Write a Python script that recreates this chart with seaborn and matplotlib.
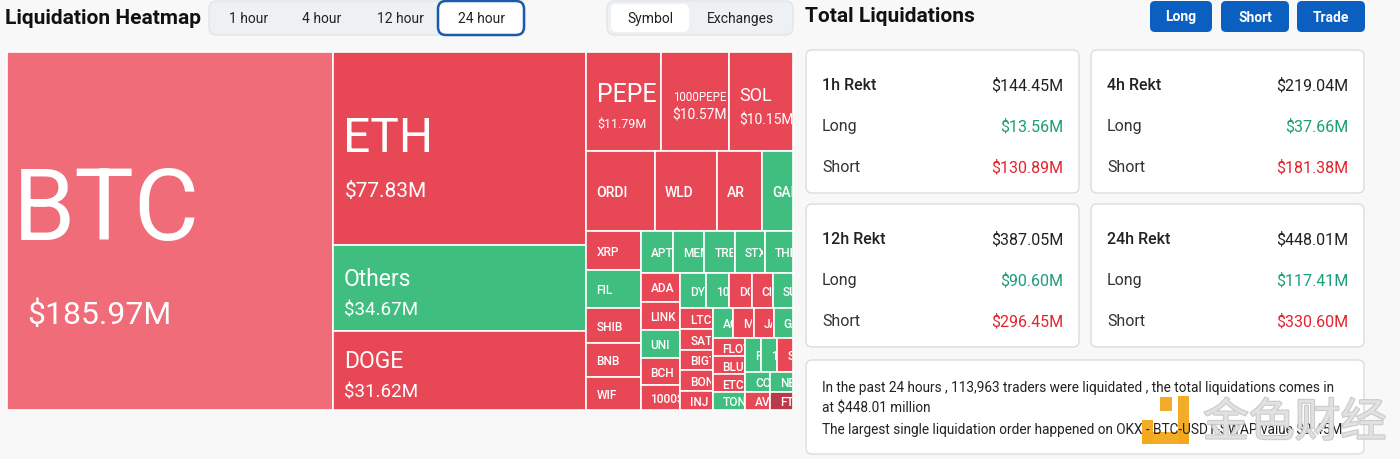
import seaborn as sns
import pandas as pd
import matplotlib.pyplot as plt
import matplotlib.patheffects as pe
from matplotlib.patches import Rectangle, FancyBboxPatch

# ---------------- data ----------------
symbols = ["BTC", "ETH", "Others", "DOGE", "PEPE", "1000PEPE", "SOL",
           "ORDI", "WLD", "AR", "GAL",
           "XRP", "FIL", "SHIB", "BNB", "WIF",
           "APT", "MEME", "TRB", "STX", "THETA",
           "ADA", "LINK", "UNI", "BCH", "1000SATS",
           "DYDX", "1000FLOKI", "DOT", "CFX", "SUI",
           "LTC", "SATS", "BIGTIME", "BONK", "INJ",
           "ACE", "MANTA", "JASMY", "GALA",
           "FLOW", "BLUR", "ETC", "TON",
           "PYTH", "1INCH", "SEI",
           "COMP", "AVAX", "NEAR", "FTM"]
values = [185.97, 77.83, 34.67, 31.62, 11.79, 10.57, 10.15,
          8.66, 7.90, 5.73, 3.95,
          3.40, 3.25, 3.00, 2.98, 2.80,
          2.20, 2.10, 2.05, 2.00, 1.90,
          1.80, 1.79, 1.78, 1.72, 1.55,
          1.45, 1.27, 1.26, 1.18, 1.12,
          1.08, 1.07, 1.06, 1.05, 1.00,
          1.00, 0.98, 0.96, 0.94,
          0.94, 0.93, 0.93, 0.92,
          0.86, 0.85, 0.84,
          0.80, 0.74, 0.72, 0.66]
sides = ["short", "short", "long", "short", "short", "short", "short",
         "short", "short", "short", "long",
         "short", "long", "short", "short", "short",
         "long", "long", "long", "long", "long",
         "short", "short", "long", "short", "short",
         "long", "long", "short", "short", "long",
         "short", "short", "short", "short", "short",
         "long", "short", "short", "long",
         "short", "short", "short", "long",
         "long", "long", "short",
         "long", "short", "long", "short"]

periods = ["1h", "4h", "12h", "24h"]
rekt_total = [144.45, 219.04, 387.05, 448.01]
rekt_long = [13.56, 37.66, 90.60, 117.41]
rekt_short = [130.89, 181.38, 296.45, 330.60]

time_tabs = ["1 hour", "4 hour", "12 hour", "24 hour"]
view_tabs = ["Symbol", "Exchanges"]
buttons = ["Long", "Short", "Trade"]
traders = 113963
largest_order = "OKX - BTC-USDT-SWAP value $9.45M"

# ---------------- style ----------------
side_colors = {"short": "#e84856", "long": "#40be80"}
shade = {"BTC": "#f06c78", "FTM": "#b93a4a"}
name_size = {"BTC": 72, "ETH": 34.5, "Others": 16.5, "DOGE": 16.5,
             "PEPE": 18, "1000PEPE": 8.3, "SOL": 13}
value_size = {"BTC": 23, "ETH": 15, "Others": 13.5, "DOGE": 13.5,
              "PEPE": 9, "1000PEPE": 10, "SOL": 10}
value_pad = {"BTC": 20}
GREEN_TXT = "#1c9c78"
RED_TXT = "#e3242f"
DARK = "#222222"

PHI = (1 + 5 ** 0.5) / 2


def squarify(vals, x0, y0, x1, y1, ratio=PHI):
    """squarified treemap (same rule as d3.treemapSquarify)"""
    rects = []
    n = len(vals)
    remaining = float(sum(vals))
    i0 = 0
    while i0 < n:
        dx, dy = x1 - x0, y1 - y0
        i1 = i0 + 1
        s = vals[i0]
        vmin = vmax = s
        alpha = max(dy / dx, dx / dy) / (remaining * ratio)
        beta = s * s * alpha
        best = max(vmax / beta, beta / vmin)
        while i1 < n:
            v = vals[i1]
            s2 = s + v
            mn, mx = min(vmin, v), max(vmax, v)
            beta = s2 * s2 * alpha
            r = max(mx / beta, beta / mn)
            if r > best:
                break
            s, vmin, vmax, best = s2, mn, mx, r
            i1 += 1
        row = vals[i0:i1]
        if dx < dy:
            yb = y0 + dy * s / remaining
            cx = x0
            for v in row:
                w = dx * v / s
                rects.append((cx, y0, w, yb - y0))
                cx += w
            y0 = yb
        else:
            xb = x0 + dx * s / remaining
            cy = y0
            for v in row:
                h = dy * v / s
                rects.append((x0, cy, xb - x0, h))
                cy += h
            x0 = xb
        remaining -= s
        i0 = i1
    return rects


sns.set_theme(style="white")
plt.rcParams["font.family"] = ["Roboto", "DejaVu Sans"]

fig = plt.figure(figsize=(14, 4.6), dpi=100, facecolor="#f8f8f8")
ax = fig.add_axes([0, 0, 1, 1])
ax.set_xlim(0, 1400)
ax.set_ylim(460, 0)
ax.axis("off")

# ---------------- treemap ----------------
df = pd.DataFrame({"symbol": symbols, "value": values, "side": sides})
cells = squarify(df["value"].tolist(), 7, 53, 793, 411)

for (x, y, w, h), row in zip(cells, df.itertuples()):
    color = shade.get(row.symbol, side_colors[row.side])
    rect = Rectangle((x, y), w, h, facecolor=color, edgecolor="white", lw=1.2)
    ax.add_patch(rect)
    texts = []
    n_pt = name_size.get(row.symbol, 10 if h >= 60 else 8.6)
    n_px = n_pt / 0.72
    if row.value >= 10:
        v_pt = value_size[row.symbol]
        v_px = v_pt / 0.72
        cap_n, cap_v = 0.711 * n_px, 0.711 * v_px
        gap = 0.6 * n_px + 2
        block = cap_n + gap + cap_v
        top = y + h / 2 + 0.04 * h - block / 2
        texts.append(ax.text(x + 12 - 0.06 * n_px, top + cap_n, row.symbol,
                             fontsize=n_pt, color="white", va="baseline"))
        texts.append(ax.text(x + value_pad.get(row.symbol, 11), top + block,
                             f"${row.value:.2f}M", fontsize=v_pt, color="white",
                             va="baseline"))
    else:
        texts.append(ax.text(x + 10, y + h / 2 + 0.711 * n_px / 2, row.symbol,
                             fontsize=n_pt, fontweight="medium", color="white",
                             va="baseline"))
    # cut the labels at the cell edge, as the page does
    clip = Rectangle((x, y), w - 1.5, h, transform=ax.transData)
    for t in texts:
        t.set_clip_on(True)
        t.set_clip_path(clip)

# ---------------- header ----------------
ax.text(5, 18, "Liquidation Heatmap", fontsize=15, fontweight="bold",
        color="#111111", va="center")

ax.add_patch(FancyBboxPatch((209, 2), 316, 34, boxstyle="round,pad=0,rounding_size=8",
                            facecolor="#eef1f4", edgecolor="#e1e5ea", lw=1))
ax.add_patch(FancyBboxPatch((438, 2), 86, 34, boxstyle="round,pad=0,rounding_size=8",
                            facecolor="white", edgecolor="#1b5bab", lw=1.8))
tab_x = [249, 322, 400, 482]
for label, tx in zip(time_tabs, tab_x):
    ax.text(tx, 19, label, fontsize=10, color=DARK, ha="center", va="center")

ax.add_patch(FancyBboxPatch((607, 2), 186, 34, boxstyle="round,pad=0,rounding_size=8",
                            facecolor="#eef1f4", edgecolor="#e1e5ea", lw=1))
ax.add_patch(FancyBboxPatch((611, 5), 78, 28, boxstyle="round,pad=0,rounding_size=6",
                            facecolor="white", edgecolor="none"))
view_x = [650, 741]
for label, tx in zip(view_tabs, view_x):
    ax.text(tx, 19, label, fontsize=10, color=DARK, ha="center", va="center")

ax.text(805, 17, "Total Liquidations", fontsize=15, fontweight="bold",
        color="#111111", va="center")
btn_x = [1150, 1221, 1297]
btn_w = [62, 68, 68]
for label, bx, bw in zip(buttons, btn_x, btn_w):
    ax.add_patch(FancyBboxPatch((bx, 2), bw, 31, boxstyle="round,pad=0,rounding_size=5",
                                facecolor="#0b5fc0", edgecolor="none"))
    ax.text(bx + bw / 2, 17.5, label, fontsize=10, fontweight="bold",
            color="white", ha="center", va="center")

# ---------------- rekt cards ----------------
card_pos = [(806, 51), (1091, 51), (806, 205), (1091, 205)]
row_dy = [35, 76, 117]
for (cx, cy), p, tot, lo, sh in zip(card_pos, periods, rekt_total, rekt_long, rekt_short):
    ax.add_patch(FancyBboxPatch((cx, cy), 273, 143, boxstyle="round,pad=0,rounding_size=6",
                                facecolor="white", edgecolor="#dcdcdc", lw=1))
    ax.text(cx + 16, cy + row_dy[0], f"{p} Rekt", fontsize=11.5, fontweight="medium",
            color=DARK, va="center")
    ax.text(cx + 257, cy + row_dy[0], f"${tot:.2f}M", fontsize=11.5, color=DARK,
            ha="right", va="center")
    ax.text(cx + 16, cy + row_dy[1], "Long", fontsize=11.5, color="#333333", va="center")
    ax.text(cx + 257, cy + row_dy[1], f"${lo:.2f}M", fontsize=11.5, color=GREEN_TXT,
            ha="right", va="center")
    ax.text(cx + 16, cy + row_dy[2], "Short", fontsize=11.5, color="#333333", va="center")
    ax.text(cx + 257, cy + row_dy[2], f"${sh:.2f}M", fontsize=11.5, color=RED_TXT,
            ha="right", va="center")

# ---------------- summary ----------------
ax.add_patch(FancyBboxPatch((806, 361), 558, 94, boxstyle="round,pad=0,rounding_size=6",
                            facecolor="white", edgecolor="#dcdcdc", lw=1))
lines = [
    f"In the past 24 hours , {traders:,} traders were liquidated , the total liquidations comes in",
    f"at ${rekt_total[-1]:.2f} million",
    f"The largest single liquidation order happened on {largest_order}",
]
for ly, line in zip([388.5, 409, 429], lines):
    ax.text(822, ly, line, fontsize=9.8, color=DARK, va="center")

# watermark
orange = "#f3a81c"
for rx, ry, rw, rh in [(1160, 398, 12, 14), (1178, 397, 11, 48),
                       (1142, 433, 47, 12), (1142, 421, 11, 24)]:
    ax.add_patch(Rectangle((rx, ry), rw, rh, facecolor=orange, edgecolor="none", alpha=0.95))
ax.text(1203, 424, "金色财经", fontsize=33, color="#e2e2e2", va="center",
        family=["Noto Sans CJK SC", "DejaVu Sans"], alpha=0.92,
        path_effects=[pe.withStroke(linewidth=1.5, foreground="#c6c6c6")])

fig.savefig("out.png", dpi=100, facecolor=fig.get_facecolor())
